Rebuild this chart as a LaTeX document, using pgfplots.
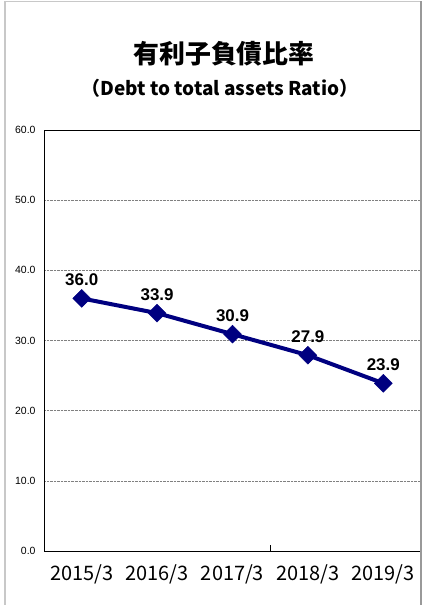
\documentclass[border=0pt]{standalone}
\usepackage{pgfplots}
\pgfplotsset{compat=1.18}
\usepackage{fontspec}
\setmainfont{Liberation Sans}
\newfontfamily\jp{Noto Sans CJK JP}
\definecolor{navy}{RGB}{0,0,128}
\definecolor{framegray}{RGB}{200,200,200}
\begin{document}
\begin{tikzpicture}[x=1bp,y=1bp]
\useasboundingbox (0,0) rectangle (436,605);
\node at (224,551.5) {\jp\bfseries\fontsize{26}{29}\selectfont 有利子負債比率};
\node at (220,517) {\jp\bfseries\fontsize{19}{22}\selectfont （Debt to total assets Ratio）};
\begin{axis}[
  at={(44bp,54bp)}, anchor=south west,
  scale only axis, width=377bp, height=421bp,
  xmin=-0.5, xmax=4.5, ymin=0, ymax=60,
  ytick={0,10,20,30,40,50,60},
  xtick={0,1,2,3,4},
  xticklabels={2015/3,2016/3,2017/3,2018/3,2019/3},
  xtick pos=bottom, ytick pos=left,
  major tick length=0pt,
  extra x ticks={2.5}, extra x tick labels={},
  extra x tick style={major tick length=6bp, tick style={black, line width=0.6bp}, tick align=inside},
  ymajorgrids, grid style={densely dotted, gray, line width=0.6bp},
  axis line style={black, line width=0.8bp},
  /pgf/number format/fixed, /pgf/number format/fixed zerofill,
  /pgf/number format/precision=1, /pgf/number format/assume math mode=true,
  yticklabel style={font=\fontsize{10.5}{12}\selectfont, xshift=-5bp},
  xticklabel style={font=\jp\fontsize{20}{22}\selectfont, yshift=-10bp},
  clip=false,
  nodes near coords,
  every node near coord/.append style={text=black, font=\bfseries\fontsize{17}{19}\selectfont, anchor=south, yshift=9bp},
]
\addplot[navy, line width=4bp, mark=square*, mark size=6.3bp, mark options={rotate=45, line width=0.5bp, fill=navy}] coordinates {
(0,36.0) (1,33.9) (2,30.9) (3,27.9) (4,23.9)
};
\end{axis}
\draw[framegray, line width=1.5bp] (5,0) -- (5,603.5) -- (421,603.5);
\draw[gray!80, line width=1.5bp] (421,603.5) -- (421,0);
\end{tikzpicture}
\end{document}
